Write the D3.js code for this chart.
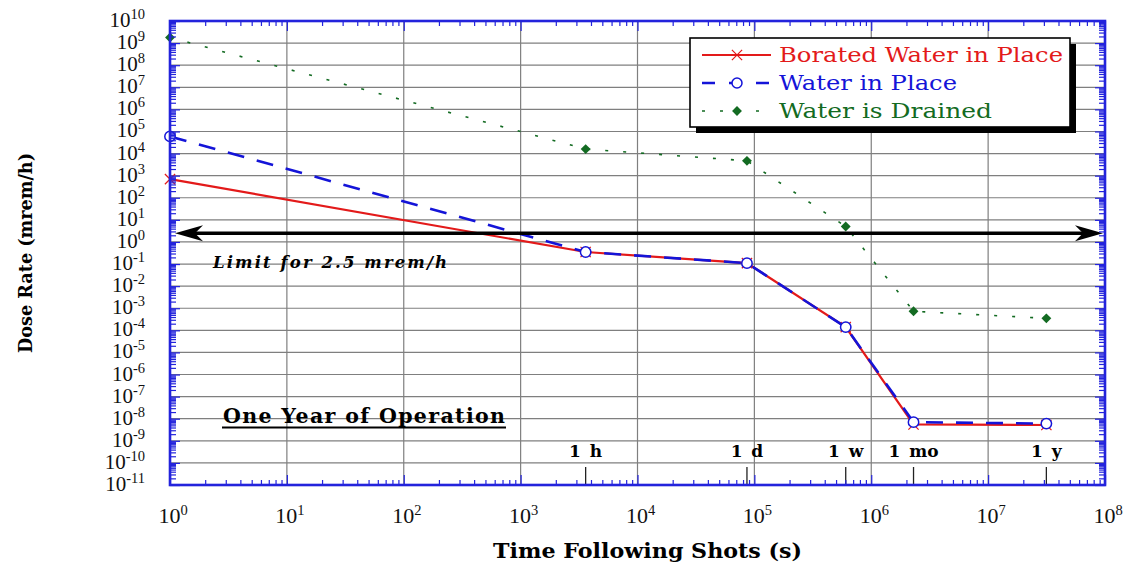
<!DOCTYPE html>
<html>
<head>
<meta charset="utf-8">
<script src="https://cdn.jsdelivr.net/npm/d3@7"></script>
<style>
  body { margin: 0; background: #fff; }
  svg { display: block; }
</style>
</head>
<body>
<svg id="chart" width="1131" height="565"></svg>
<script>
// Dose rate after shots, one year of operation
const timeSeconds   = [1, 3600, 86400, 604800, 2.3e6, 3.15e7];
const boratedWater  = [7e2, 0.35, 0.11, 1.4e-4, 5.5e-9, 5.2e-9];
const waterInPlace  = [6e4, 0.35, 0.11, 1.4e-4, 7e-9, 6e-9];
const waterDrained  = [1.8e9, 1.6e4, 4.7e3, 5, 7.3e-4, 3.5e-4];
const seriesNames   = ["Borated Water in Place", "Water in Place", "Water is Drained"];
const periodLabels  = ["1 h", "1 d", "1 w", "1 mo", "1 y"];
const periodSeconds = [3600, 86400, 604800, 2.3e6, 3.15e7];
const limitDose     = 2.5;
const limitLabel    = "Limit for 2.5 mrem/h";
const noteLabel     = "One Year of Operation";
const xTitle        = "Time Following Shots (s)";
const yTitle        = "Dose Rate (mrem/h)";
const xExponents    = [0, 1, 2, 3, 4, 5, 6, 7, 8];
const yExponents    = [-11, -10, -9, -8, -7, -6, -5, -4, -3, -2, -1, 0, 1, 2, 3, 4, 5, 6, 7, 8, 9, 10];

const svg = d3.select("#chart");
const L = 170, R = 1105, T = 21, B = 485;
const FRAME = "#2323dc", GRID = "#7f7f7f";
const RED = "#e31a1a", BLUE = "#1414d8", GREEN = "#136b22";
const SERIF = "'DejaVu Serif', serif";
const NUM = "'Liberation Serif', serif";

const x = d3.scaleLog().domain([1, 1e8]).range([L, R]);
const y = d3.scaleLog().domain([1e-11, 1e10]).range([B, T]);

const minorOf = exps => exps.slice(0, -1).flatMap(e => [2,3,4,5,6,7,8,9].map(m => m * Math.pow(10, e)));
const xMajor = xExponents.map(e => Math.pow(10, e));
const yMajor = yExponents.map(e => Math.pow(10, e));
const xMinor = minorOf(xExponents);
const yMinor = minorOf(yExponents);

// grid
const grid = svg.append("g").attr("stroke", GRID).attr("stroke-width", 1.2);
grid.selectAll(".gx").data(xMajor.slice(1, -1)).join("line")
  .attr("x1", d => x(d)).attr("x2", d => x(d)).attr("y1", T).attr("y2", B);
grid.selectAll(".gy").data(yMajor.slice(1, -1)).join("line")
  .attr("y1", d => y(d)).attr("y2", d => y(d)).attr("x1", L).attr("x2", R);

// series
const pts = vals => timeSeconds.map((t, i) => [t, vals[i]]);
const line = d3.line().x(d => x(d[0])).y(d => y(d[1]));

svg.append("path").datum(pts(boratedWater)).attr("d", line)
  .attr("fill", "none").attr("stroke", RED).attr("stroke-width", 2.2);
const cross = d3.symbol(d3.symbolX, 70);
svg.append("g").selectAll("path").data(pts(boratedWater)).join("path")
  .attr("transform", d => `translate(${x(d[0])},${y(d[1])})`)
  .attr("d", cross).attr("fill", "none").attr("stroke", RED).attr("stroke-width", 1.2);

svg.append("path").datum(pts(waterInPlace)).attr("d", line)
  .attr("fill", "none").attr("stroke", BLUE).attr("stroke-width", 2.6)
  .attr("stroke-dasharray", "17,13");
svg.append("g").selectAll("circle").data(pts(waterInPlace)).join("circle")
  .attr("cx", d => x(d[0])).attr("cy", d => y(d[1])).attr("r", 5.2)
  .attr("fill", "#fff").attr("stroke", BLUE).attr("stroke-width", 1.5);

svg.append("path").datum(pts(waterDrained)).attr("d", line)
  .attr("fill", "none").attr("stroke", GREEN).attr("stroke-width", 1.6)
  .attr("stroke-dasharray", "3,15");
const diamond = d3.symbol(d3.symbolDiamond2, 62);
svg.append("g").selectAll("path").data(pts(waterDrained)).join("path")
  .attr("transform", d => `translate(${x(d[0])},${y(d[1])})`)
  .attr("d", diamond).attr("fill", GREEN);

// limit arrow
const ly = y(limitDose);
const lx0 = L + 5, lx1 = R - 2;
svg.append("line").attr("x1", lx0 + 8).attr("x2", lx1 - 8).attr("y1", ly).attr("y2", ly)
  .attr("stroke", "#000").attr("stroke-width", 3.5);
svg.append("path")
  .attr("d", `M${lx0},${ly} L${lx0 + 28},${ly - 8} L${lx0 + 20},${ly} L${lx0 + 28},${ly + 8} Z`)
  .attr("fill", "#000");
svg.append("path")
  .attr("d", `M${lx1},${ly} L${lx1 - 28},${ly - 8} L${lx1 - 20},${ly} L${lx1 - 28},${ly + 8} Z`)
  .attr("fill", "#000");
svg.append("text").attr("x", 213).attr("y", 268)
  .attr("font-family", SERIF).attr("font-style", "italic").attr("font-weight", "bold")
  .attr("font-size", 16.5).attr("textLength", 234).attr("lengthAdjust", "spacing")
  .text(limitLabel);

// note
svg.append("text").attr("x", 223).attr("y", 423)
  .attr("font-family", SERIF).attr("font-weight", "bold")
  .attr("font-size", 20.5).attr("textLength", 282).attr("lengthAdjust", "spacing")
  .text(noteLabel);
svg.append("line").attr("x1", 222).attr("x2", 506).attr("y1", 427.5).attr("y2", 427.5)
  .attr("stroke", "#000").attr("stroke-width", 1.8);

// period markers
const per = svg.append("g");
per.selectAll("line").data(periodSeconds).join("line")
  .attr("x1", d => x(d)).attr("x2", d => x(d)).attr("y1", 467).attr("y2", B)
  .attr("stroke", "#222").attr("stroke-width", 1.3);
per.selectAll("text").data(periodLabels).join("text")
  .attr("x", (d, i) => x(periodSeconds[i])).attr("y", 457)
  .attr("text-anchor", "middle").attr("font-family", SERIF).attr("font-weight", "bold")
  .attr("font-size", 17).attr("word-spacing", 3)
  .text(d => d);

// axes (ticks inward on all four sides)
function styleAxis(g) {
  g.select(".domain").remove();
  g.selectAll(".tick line").attr("stroke", FRAME).attr("stroke-width", 1.2);
  g.selectAll(".tick text").remove();
}
const axes = [
  [d3.axisBottom(x), `translate(0,${B})`, xMinor, xMajor, -5, -10],
  [d3.axisTop(x),    `translate(0,${T})`, xMinor, xMajor, -5, -10],
  [d3.axisLeft(y),   `translate(${L},0)`, yMinor, yMajor, -6, -10],
  [d3.axisRight(y),  `translate(${R},0)`, yMinor, yMajor, -6, -10]
];
axes.forEach(([ax, tr, minor, major, sMin, sMaj]) => {
  svg.append("g").attr("transform", tr)
    .call(ax.tickValues(minor).tickSize(sMin).tickFormat("")).call(styleAxis);
  svg.append("g").attr("transform", tr)
    .call(ax.tickValues(major).tickSize(sMaj).tickFormat("")).call(styleAxis);
});
svg.append("rect").attr("x", L).attr("y", T).attr("width", R - L).attr("height", B - T)
  .attr("fill", "none").attr("stroke", FRAME).attr("stroke-width", 2.6);

// tick labels as 10^n
function powerLabel(sel, e) {
  sel.append("tspan").text("10");
  sel.append("tspan").attr("font-size", 14.5).attr("dy", -8).text(String(e));
}
svg.append("g").selectAll("text").data(xExponents).join("text")
  .attr("x", e => x(Math.pow(10, e)) + 3).attr("y", 523)
  .attr("text-anchor", "middle").attr("font-family", NUM).attr("font-size", 22).attr("fill", "#111")
  .each(function(e) { powerLabel(d3.select(this), e); });
svg.append("g").selectAll("text").data(yExponents).join("text")
  .attr("x", 145).attr("y", e => y(Math.pow(10, e)) + 6)
  .attr("text-anchor", "end").attr("font-family", NUM).attr("font-size", 21).attr("fill", "#111")
  .each(function(e) { powerLabel(d3.select(this), e); });

// axis titles
svg.append("text").attr("x", 493).attr("y", 558)
  .attr("font-family", SERIF).attr("font-weight", "bold").attr("font-size", 19.5)
  .attr("textLength", 309).attr("lengthAdjust", "spacingAndGlyphs").text(xTitle);
svg.append("text").attr("transform", "translate(32,353) rotate(-90)")
  .attr("font-family", SERIF).attr("font-weight", "bold").attr("font-size", 18.5)
  .attr("textLength", 200).attr("lengthAdjust", "spacingAndGlyphs").text(yTitle);

// legend
const lg = svg.append("g");
lg.append("rect").attr("x", 696).attr("y", 44).attr("width", 380).attr("height", 89).attr("fill", "#000");
lg.append("rect").attr("x", 690).attr("y", 38).attr("width", 380).attr("height", 89)
  .attr("fill", "#fff").attr("stroke", "#000").attr("stroke-width", 1.6);
const rows = [
  { color: RED,   dash: null,    width: 2.2, mark: "x", len: 284 },
  { color: BLUE,  dash: "13,14", width: 2.6, mark: "o", len: 178 },
  { color: GREEN, dash: "3,15",  width: 1.6, mark: "d", len: 213 }
];
rows.forEach((r, i) => {
  const ry = 55 + i * 28;
  lg.append("line").attr("x1", 702).attr("x2", 771).attr("y1", ry).attr("y2", ry)
    .attr("stroke", r.color).attr("stroke-width", r.width).attr("stroke-dasharray", r.dash);
  if (r.mark === "x") {
    lg.append("path").attr("transform", `translate(737,${ry})`).attr("d", cross)
      .attr("fill", "none").attr("stroke", r.color).attr("stroke-width", 1.2);
  } else if (r.mark === "o") {
    lg.append("circle").attr("cx", 737).attr("cy", ry).attr("r", 5)
      .attr("fill", "#fff").attr("stroke", r.color).attr("stroke-width", 1.5);
  } else {
    lg.append("path").attr("transform", `translate(737,${ry})`).attr("d", diamond).attr("fill", r.color);
  }
  lg.append("text").attr("x", 779).attr("y", ry + 7)
    .attr("font-family", SERIF).attr("font-size", 21).attr("fill", r.color)
    .attr("textLength", r.len).attr("lengthAdjust", "spacingAndGlyphs")
    .text(seriesNames[i]);
});
</script>
</body>
</html>
